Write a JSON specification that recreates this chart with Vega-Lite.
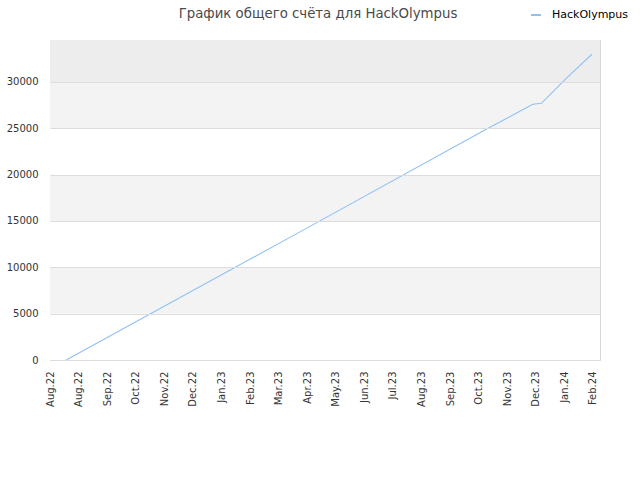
{
  "$schema": "https://vega.github.io/schema/vega-lite/v6.json",
  "autosize": "none",
  "width": 550,
  "height": 320,
  "padding": {"left": 50, "top": 40, "right": 40, "bottom": 120},
  "background": "white",
  "title": {
    "text": "График общего счёта для HackOlympus",
    "font": "DejaVu Sans",
    "fontSize": 13.3,
    "fontWeight": "normal",
    "color": "#4a4a4a",
    "anchor": "middle",
    "frame": "group",
    "dx": -7,
    "offset": -11
  },
  "config": {
    "view": {"stroke": "#d8d8d8"},
    "axis": {
      "labelFont": "DejaVu Sans",
      "labelFontSize": 10,
      "labelColor": "#333333",
      "ticks": false,
      "domain": false,
      "title": null
    },
    "legend": {
      "labelFont": "DejaVu Sans",
      "labelFontSize": 11,
      "labelColor": "#000000"
    }
  },
  "layer": [
    {
      "data": {
        "values": [
          {"lo": 0, "hi": 5000, "shade": "w"},
          {"lo": 5000, "hi": 10000, "shade": "g"},
          {"lo": 10000, "hi": 15000, "shade": "w"},
          {"lo": 15000, "hi": 20000, "shade": "g"},
          {"lo": 20000, "hi": 25000, "shade": "w"},
          {"lo": 25000, "hi": 30000, "shade": "g"},
          {"lo": 30000, "hi": 34530, "shade": "d"}
        ]
      },
      "mark": {"type": "rect"},
      "encoding": {
        "y": {
          "field": "lo",
          "type": "quantitative",
          "scale": {"domain": [0, 34530], "nice": false, "zero": true},
          "axis": {
            "values": [0, 5000, 10000, 15000, 20000, 25000, 30000],
            "format": "d",
            "grid": true,
            "gridColor": "#dddddd",
            "labelPadding": 12,
            "zindex": 1
          }
        },
        "y2": {"field": "hi"},
        "fill": {
          "field": "shade",
          "type": "nominal",
          "scale": {"domain": ["w", "g", "d"], "range": ["#ffffff", "#f3f3f3", "#ededed"]},
          "legend": null
        }
      }
    },
    {
      "data": {
        "values": [
          {"date": "2022-08-18", "score": 0, "team": "HackOlympus"},
          {"date": "2023-04-20", "score": 13800, "team": "HackOlympus"},
          {"date": "2023-11-02", "score": 24890, "team": "HackOlympus"},
          {"date": "2023-12-21", "score": 27600, "team": "HackOlympus"},
          {"date": "2023-12-30", "score": 27700, "team": "HackOlympus"},
          {"date": "2024-01-25", "score": 30400, "team": "HackOlympus"},
          {"date": "2024-02-21", "score": 32990, "team": "HackOlympus"}
        ]
      },
      "mark": {"type": "line", "strokeWidth": 1.1},
      "encoding": {
        "x": {
          "field": "date",
          "type": "temporal",
          "scale": {
            "type": "utc",
            "domain": [
              {"year": 2022, "month": 8, "date": 1, "utc": true},
              {"year": 2024, "month": 2, "date": 29, "hours": 12, "utc": true}
            ]
          },
          "axis": {
            "values": [
              {"year": 2022, "month": 8, "date": 1, "utc": true},
              {"year": 2022, "month": 8, "date": 31, "utc": true},
              {"year": 2022, "month": 9, "date": 30, "utc": true},
              {"year": 2022, "month": 10, "date": 30, "utc": true},
              {"year": 2022, "month": 11, "date": 29, "utc": true},
              {"year": 2022, "month": 12, "date": 29, "utc": true},
              {"year": 2023, "month": 1, "date": 28, "utc": true},
              {"year": 2023, "month": 2, "date": 27, "utc": true},
              {"year": 2023, "month": 3, "date": 29, "utc": true},
              {"year": 2023, "month": 4, "date": 28, "utc": true},
              {"year": 2023, "month": 5, "date": 28, "utc": true},
              {"year": 2023, "month": 6, "date": 27, "utc": true},
              {"year": 2023, "month": 7, "date": 27, "utc": true},
              {"year": 2023, "month": 8, "date": 26, "utc": true},
              {"year": 2023, "month": 9, "date": 25, "utc": true},
              {"year": 2023, "month": 10, "date": 25, "utc": true},
              {"year": 2023, "month": 11, "date": 24, "utc": true},
              {"year": 2023, "month": 12, "date": 24, "utc": true},
              {"year": 2024, "month": 1, "date": 23, "utc": true},
              {"year": 2024, "month": 2, "date": 22, "utc": true}
            ],
            "labelExpr": "utcFormat(datum.value, '%b.%y')",
            "labelAngle": 270,
            "labelAlign": "right",
            "labelBaseline": "middle",
            "labelPadding": 11,
            "labelOverlap": false,
            "grid": false
          }
        },
        "y": {"field": "score", "type": "quantitative"},
        "color": {
          "field": "team",
          "type": "nominal",
          "scale": {"range": ["#8fc1f3"]},
          "legend": {
            "title": null,
            "orient": "none",
            "legendX": 480,
            "legendY": -31,
            "symbolType": "stroke",
            "symbolSize": 100,
            "symbolStrokeWidth": 2,
            "labelOffset": 10
          }
        }
      }
    }
  ]
}
